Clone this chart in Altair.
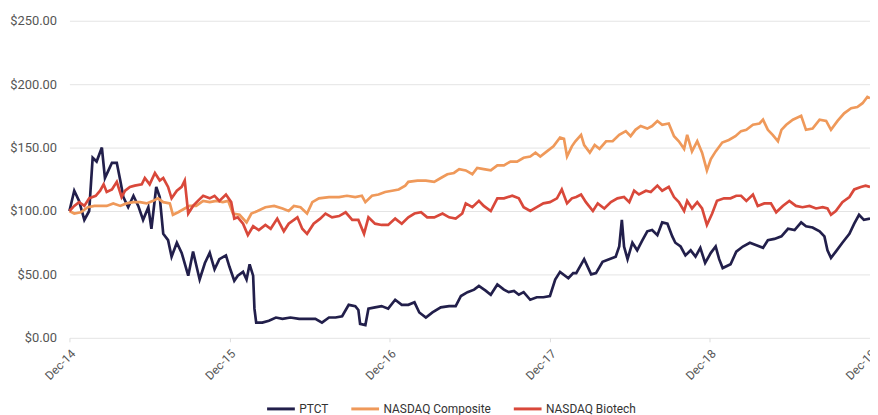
import altair as alt
import pandas as pd

series_names = ["PTCT", "NASDAQ Composite", "NASDAQ Biotech"]
series_colors = ["#221f4b", "#ef995a", "#d9483a"]

ptct_dates = [
    "2014-12-31", "2015-01-11", "2015-01-22", "2015-02-03", "2015-02-14", "2015-02-22",
    "2015-03-03", "2015-03-15", "2015-03-22", "2015-03-30", "2015-04-07", "2015-04-18",
    "2015-04-26", "2015-05-03", "2015-05-14", "2015-05-26", "2015-06-06", "2015-06-17",
    "2015-06-29", "2015-07-06", "2015-07-17", "2015-07-25", "2015-08-02", "2015-08-13",
    "2015-08-21", "2015-09-02", "2015-09-13", "2015-09-28", "2015-10-09", "2015-10-24",
    "2015-11-05", "2015-11-16", "2015-11-27", "2015-12-08", "2015-12-23", "2015-12-31",
    "2016-01-11", "2016-01-19", "2016-01-31", "2016-02-08", "2016-02-15", "2016-02-23",
    "2016-02-26", "2016-03-01", "2016-03-15", "2016-03-30", "2016-04-15", "2016-04-30",
    "2016-05-18", "2016-06-07", "2016-06-25", "2016-07-14", "2016-07-29", "2016-08-14",
    "2016-08-29", "2016-09-13", "2016-09-28", "2016-10-13", "2016-10-20", "2016-10-24",
    "2016-11-05", "2016-11-12", "2016-11-27", "2016-12-12", "2016-12-27", "2017-01-12",
    "2017-01-27", "2017-02-11", "2017-02-25", "2017-03-08", "2017-03-23", "2017-04-07",
    "2017-04-26", "2017-05-15", "2017-05-30", "2017-06-11", "2017-06-26", "2017-07-11",
    "2017-07-22", "2017-08-07", "2017-08-18", "2017-09-02", "2017-09-17", "2017-09-28",
    "2017-10-10", "2017-10-21", "2017-11-01", "2017-11-16", "2017-12-01", "2017-12-16",
    "2017-12-31", "2018-01-12", "2018-01-23", "2018-02-11", "2018-02-22", "2018-03-01",
    "2018-03-19", "2018-04-04", "2018-04-15", "2018-04-30", "2018-05-15", "2018-05-30",
    "2018-06-07", "2018-06-13", "2018-06-18", "2018-06-26", "2018-07-07", "2018-07-18",
    "2018-07-30", "2018-08-10", "2018-08-21", "2018-09-02", "2018-09-13", "2018-09-25",
    "2018-10-06", "2018-10-13", "2018-10-25", "2018-11-05", "2018-11-17", "2018-11-28",
    "2018-12-09", "2018-12-20", "2019-01-02", "2019-01-13", "2019-01-21", "2019-01-29",
    "2019-02-16", "2019-03-01", "2019-03-16", "2019-04-01", "2019-04-16", "2019-05-01",
    "2019-05-12", "2019-05-27", "2019-06-12", "2019-06-27", "2019-07-12", "2019-07-27",
    "2019-08-07", "2019-08-22", "2019-09-07", "2019-09-18", "2019-09-25", "2019-10-03",
    "2019-10-14", "2019-10-29", "2019-11-14", "2019-11-25", "2019-12-06", "2019-12-17",
    "2019-12-31",
]
ptct_values = [
    100, 116, 108, 93, 100, 142,
    139, 150, 126, 132, 138, 138,
    124, 111, 103, 112, 104, 93,
    103, 86, 119, 111, 82, 77,
    64, 75, 67, 49, 68, 46,
    59, 67, 54, 62, 65, 56,
    45, 49, 52, 46, 58, 49,
    23, 12, 12, 13.5, 16, 15,
    16, 15, 15, 15, 12, 16,
    16, 17, 26, 25, 22, 11,
    10, 23, 24, 25, 23, 30,
    26, 26, 28, 20, 16, 20,
    24, 25, 25, 33, 36, 38,
    41, 37, 34, 42, 38, 36,
    37, 34, 36, 30, 32, 32,
    33, 46, 52, 47, 51, 51,
    62, 50, 51, 60, 62, 64,
    72, 93, 72, 62, 75, 69,
    77, 84, 85, 81, 91, 90,
    80, 75, 72, 65, 69, 64,
    71, 59, 67, 72, 62, 55,
    58, 68, 72, 75, 73, 71,
    77, 78, 80, 86, 85, 91,
    88, 87, 84, 80, 69, 63,
    68, 75, 82, 90, 97, 93,
    94,
]

comp_dates = [
    "2014-12-31", "2015-01-11", "2015-01-26", "2015-02-11", "2015-02-26", "2015-03-11",
    "2015-03-26", "2015-04-10", "2015-04-26", "2015-05-10", "2015-05-26", "2015-06-10",
    "2015-06-25", "2015-07-10", "2015-07-21", "2015-08-02", "2015-08-17", "2015-08-24",
    "2015-09-05", "2015-09-20", "2015-10-01", "2015-10-16", "2015-11-01", "2015-11-16",
    "2015-12-01", "2015-12-16", "2015-12-28", "2016-01-08", "2016-01-23", "2016-02-08",
    "2016-02-19", "2016-03-04", "2016-03-22", "2016-04-11", "2016-04-30", "2016-05-14",
    "2016-05-26", "2016-06-10", "2016-06-25", "2016-07-07", "2016-07-22", "2016-08-14",
    "2016-09-06", "2016-09-24", "2016-10-13", "2016-10-28", "2016-11-05", "2016-11-20",
    "2016-12-05", "2016-12-20", "2017-01-05", "2017-01-20", "2017-02-04", "2017-02-11",
    "2017-03-04", "2017-03-23", "2017-04-11", "2017-04-26", "2017-05-11", "2017-05-26",
    "2017-06-07", "2017-06-22", "2017-07-07", "2017-07-18", "2017-08-02", "2017-08-18",
    "2017-09-02", "2017-09-17", "2017-10-02", "2017-10-17", "2017-11-01", "2017-11-16",
    "2017-11-28", "2017-12-09", "2017-12-24", "2018-01-08", "2018-01-23", "2018-02-01",
    "2018-02-08", "2018-02-19", "2018-02-27", "2018-03-12", "2018-03-19", "2018-04-01",
    "2018-04-12", "2018-04-23", "2018-05-08", "2018-05-23", "2018-06-07", "2018-06-22",
    "2018-07-03", "2018-07-14", "2018-07-26", "2018-08-10", "2018-08-21", "2018-09-02",
    "2018-09-13", "2018-09-28", "2018-10-10", "2018-10-21", "2018-11-02", "2018-11-09",
    "2018-11-20", "2018-12-02", "2018-12-13", "2018-12-24", "2019-01-02", "2019-01-13",
    "2019-01-28", "2019-02-12", "2019-02-27", "2019-03-12", "2019-03-24", "2019-04-08",
    "2019-04-23", "2019-05-01", "2019-05-12", "2019-05-23", "2019-06-04", "2019-06-12",
    "2019-06-23", "2019-07-08", "2019-07-27", "2019-08-07", "2019-08-22", "2019-09-07",
    "2019-09-22", "2019-10-03", "2019-10-18", "2019-11-02", "2019-11-18", "2019-12-02",
    "2019-12-14", "2019-12-25", "2019-12-31",
]
comp_values = [
    100, 98, 99, 103, 104, 104,
    104, 106, 104, 106, 107, 107,
    106, 108, 110, 107, 106, 97,
    99, 102, 104, 104, 108, 107,
    108, 107, 108, 98, 97, 91,
    98, 100, 103, 104, 102, 100,
    104, 103, 98, 107, 110, 111,
    111, 112, 111, 112, 107, 112,
    113, 115, 116, 117, 120, 123,
    124, 124, 123, 126, 129, 130,
    133, 132, 129, 134, 133, 132,
    136, 136, 139, 139, 142, 143,
    146, 143, 147, 151, 158, 157,
    143, 151, 155, 160, 152, 146,
    152, 149, 155, 155, 160, 163,
    159, 164, 167, 165, 167, 171,
    168, 169, 159, 155, 149, 160,
    147, 155, 146, 132, 141, 147,
    154, 156, 159, 163, 164, 168,
    169, 172, 164, 160, 155, 164,
    168, 172, 175, 164, 165, 172,
    171, 164, 171, 177, 181, 182,
    185, 190, 189,
]

biot_dates = [
    "2014-12-31", "2015-01-11", "2015-01-22", "2015-02-03", "2015-02-14", "2015-03-01",
    "2015-03-11", "2015-03-19", "2015-03-26", "2015-04-07", "2015-04-18", "2015-04-29",
    "2015-05-07", "2015-05-18", "2015-05-29", "2015-06-14", "2015-06-21", "2015-07-02",
    "2015-07-14", "2015-07-25", "2015-08-02", "2015-08-13", "2015-08-21", "2015-09-02",
    "2015-09-13", "2015-09-20", "2015-09-28", "2015-10-09", "2015-10-20", "2015-11-01",
    "2015-11-16", "2015-11-27", "2015-12-08", "2015-12-23", "2016-01-04", "2016-01-11",
    "2016-01-19", "2016-01-31", "2016-02-11", "2016-02-23", "2016-03-07", "2016-03-22",
    "2016-04-03", "2016-04-18", "2016-05-03", "2016-05-14", "2016-06-03", "2016-06-14",
    "2016-06-25", "2016-07-10", "2016-07-25", "2016-08-06", "2016-08-21", "2016-09-06",
    "2016-09-21", "2016-10-06", "2016-10-20", "2016-11-02", "2016-11-12", "2016-11-27",
    "2016-12-12", "2016-12-27", "2017-01-12", "2017-01-27", "2017-02-11", "2017-02-25",
    "2017-03-12", "2017-03-26", "2017-04-11", "2017-04-30", "2017-05-15", "2017-05-30",
    "2017-06-14", "2017-06-22", "2017-07-07", "2017-07-22", "2017-08-02", "2017-08-18",
    "2017-09-02", "2017-09-17", "2017-10-06", "2017-10-21", "2017-11-01", "2017-11-16",
    "2017-12-01", "2017-12-16", "2017-12-31", "2018-01-16", "2018-01-27", "2018-02-08",
    "2018-02-19", "2018-03-01", "2018-03-12", "2018-03-23", "2018-04-08", "2018-04-19",
    "2018-05-04", "2018-05-19", "2018-06-03", "2018-06-18", "2018-06-30", "2018-07-11",
    "2018-07-22", "2018-08-07", "2018-08-18", "2018-09-02", "2018-09-13", "2018-09-28",
    "2018-10-10", "2018-10-21", "2018-11-02", "2018-11-09", "2018-11-20", "2018-12-02",
    "2018-12-13", "2018-12-24", "2019-01-05", "2019-01-16", "2019-02-01", "2019-02-16",
    "2019-03-01", "2019-03-12", "2019-03-24", "2019-04-08", "2019-04-19", "2019-05-04",
    "2019-05-19", "2019-05-31", "2019-06-15", "2019-06-30", "2019-07-15", "2019-07-30",
    "2019-08-15", "2019-08-30", "2019-09-14", "2019-09-25", "2019-10-03", "2019-10-14",
    "2019-10-29", "2019-11-14", "2019-11-25", "2019-12-10", "2019-12-21", "2019-12-31",
]
biot_values = [
    100, 104, 107, 104, 110, 112,
    116, 121, 115, 117, 123, 111,
    116, 119, 120, 121, 126, 121,
    130, 124, 126, 119, 110, 116,
    119, 124, 98, 104, 108, 112,
    110, 112, 108, 113, 107, 94,
    95, 90, 81, 88, 85, 89,
    86, 94, 84, 90, 95, 86,
    82, 90, 94, 98, 95, 96,
    99, 93, 93, 82, 95, 90,
    89, 89, 94, 90, 95, 98,
    99, 95, 95, 98, 95, 94,
    98, 106, 103, 108, 104, 100,
    110, 110, 112, 110, 103, 100,
    103, 106, 107, 110, 117, 106,
    110, 111, 113, 107, 100, 106,
    102, 107, 110, 111, 107, 116,
    113, 116, 115, 120, 116, 119,
    111, 107, 100, 108, 102, 107,
    102, 89, 98, 108, 110, 110,
    112, 112, 108, 113, 104, 106,
    106, 99, 104, 108, 104, 103,
    104, 102, 103, 102, 97, 100,
    107, 111, 117, 119, 120, 119,
]

tick_years = [2014, 2015, 2016, 2017, 2018, 2019]
y_ticks = [0, 50, 100, 150, 200, 250]

frames = []
for name, d, v in [
    (series_names[0], ptct_dates, ptct_values),
    (series_names[1], comp_dates, comp_values),
    (series_names[2], biot_dates, biot_values),
]:
    frames.append(pd.DataFrame({"date": d, "value": v, "series": name}))
df = pd.concat(frames, ignore_index=True)

x_axis = alt.Axis(
    values=[alt.DateTime(year=y, month=12, date=31, utc=True) for y in tick_years],
    labelExpr="utcFormat(datum.value, '%b-%y')",
    labelAngle=315,
    labelAlign="right",
    labelBaseline="top",
    labelFont="Roboto",
    labelFontSize=12,
    labelColor="#555555",
    labelPadding=6,
    grid=False,
    domain=False,
    ticks=True,
    tickSize=4,
    tickColor="#dddddd",
    title=None,
)

y_axis = alt.Axis(
    values=y_ticks,
    format="$.2f",
    labelFont="Roboto",
    labelFontSize=13,
    labelColor="#555555",
    labelPadding=13,
    grid=True,
    gridColor="#e4e4e4",
    gridWidth=1,
    domain=False,
    ticks=False,
    title=None,
)

chart = (
    alt.Chart(df)
    .mark_line(strokeWidth=2.7)
    .encode(
        x=alt.X(
            "date:T",
            scale=alt.Scale(
                type="utc",
                domain=[
                    alt.DateTime(year=2014, month=12, date=31, utc=True),
                    alt.DateTime(year=2019, month=12, date=31, utc=True),
                ],
            ),
            axis=x_axis,
        ),
        y=alt.Y("value:Q", scale=alt.Scale(domain=[0, 250], nice=False), axis=y_axis),
        color=alt.Color(
            "series:N",
            scale=alt.Scale(domain=series_names, range=series_colors),
            sort=series_names,
            legend=alt.Legend(
                title=None,
                orient="none",
                direction="horizontal",
                legendX=198,
                legendY=376,
                symbolType="stroke",
                symbolSize=784,
                symbolStrokeWidth=3,
                labelFont="Roboto",
                labelFontSize=12,
                labelColor="#333333",
                labelOffset=3,
                columnPadding=16,
                padding=0,
            ),
        ),
        order=alt.Order("date:T"),
    )
    .properties(
        width=808,
        height=320,
        autosize=alt.AutoSizeParams(type="none"),
        padding={"left": 62, "top": 11, "right": 0, "bottom": 76},
    )
    .configure_view(stroke=None)
)

chart.save("out.html", embed_options={"renderer": "svg", "actions": False})
